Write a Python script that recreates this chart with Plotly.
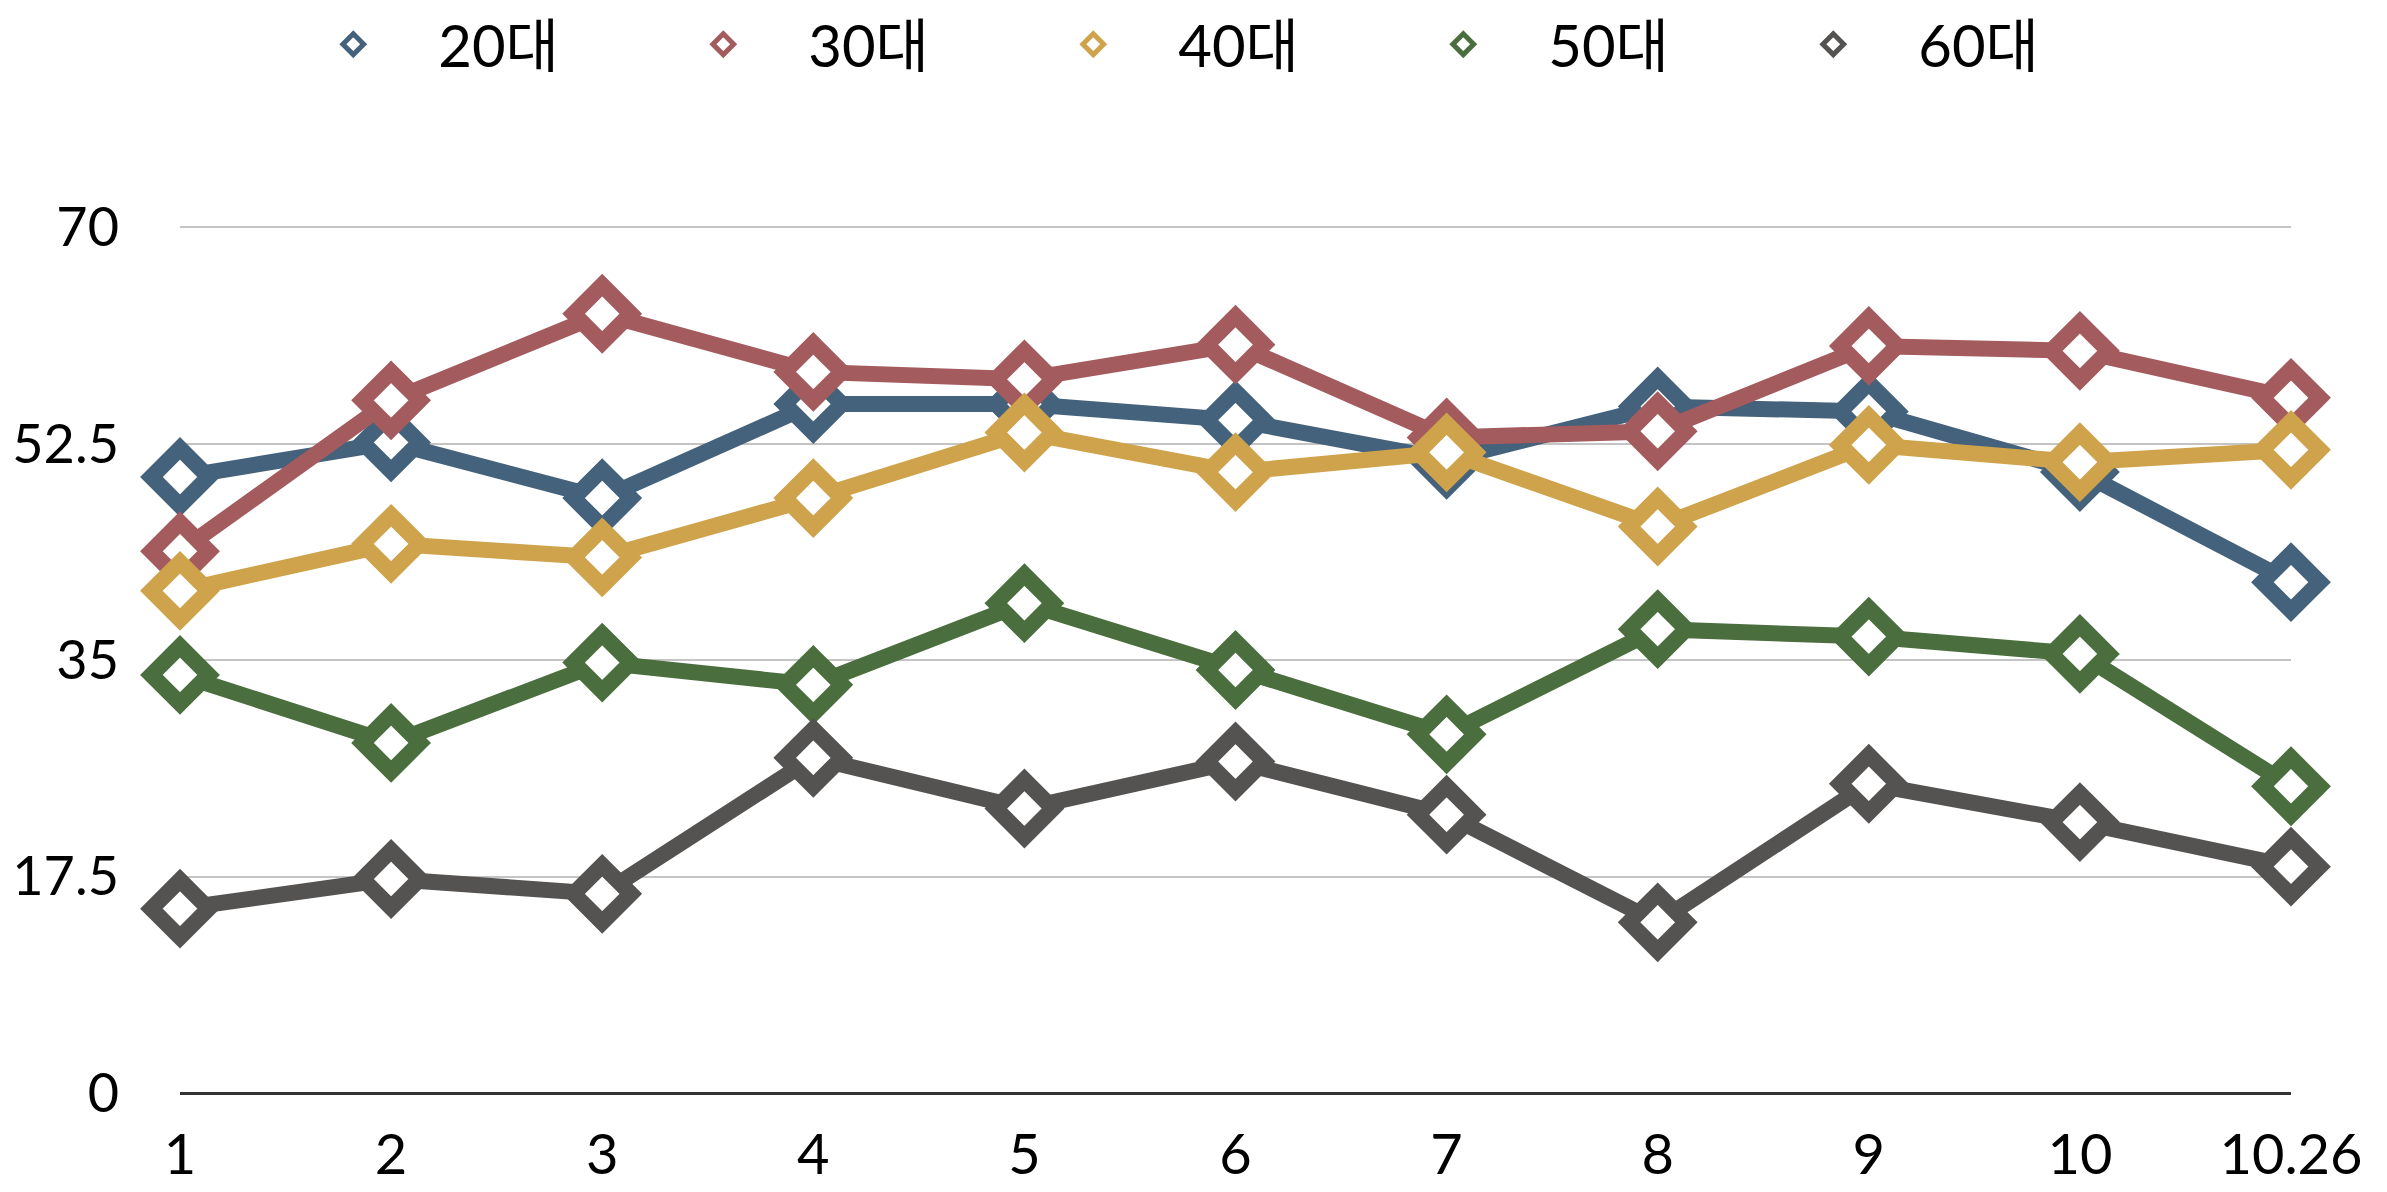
import plotly.graph_objects as go

categories = ["1", "2", "3", "4", "5", "6", "7", "8", "9", "10", "10.26"]
series_names = ["20대", "30대", "40대", "50대", "60대"]
v20 = [49.8, 52.6, 48.1, 55.7, 55.7, 54.4, 51.2, 55.5, 55.1, 50.2, 41.3]
v30 = [43.8, 56.0, 63.0, 58.3, 57.7, 60.5, 53.0, 53.5, 60.4, 60.0, 56.2]
v40 = [40.6, 44.4, 43.3, 48.1, 53.4, 50.2, 51.8, 45.8, 52.4, 51.0, 52.0]
v50 = [33.8, 28.3, 34.8, 33.0, 39.6, 34.2, 29.0, 37.5, 36.9, 35.5, 24.8]
v60 = [14.9, 17.3, 16.1, 27.1, 23.0, 26.8, 22.5, 13.8, 25.0, 21.9, 18.3]
y_ticks = [0, 17.5, 35, 52.5, 70]
y_tick_labels = ["0", "17.5", "35", "52.5", "70"]

colors = ["#44627B", "#A35B5E", "#CFA34B", "#4A6E3D", "#555352"]
all_values = [v20, v30, v40, v50, v60]

FONT = "Lato, 'Noto Sans CJK KR', sans-serif"

fig = go.Figure()
for name, vals, col in zip(series_names, all_values, colors):
    fig.add_trace(go.Scatter(
        x=categories, y=vals, name=name, mode="lines+markers",
        line=dict(color=col, width=16),
        marker=dict(symbol="diamond", size=44, color="white",
                    line=dict(color=col, width=16)),
        cliponaxis=False, showlegend=False, legendgroup=name,
    ))
# legend keys (marker only, like the original legend)
for name, col in zip(series_names, colors):
    fig.add_trace(go.Scatter(
        x=[None], y=[None], name=name, mode="markers",
        marker=dict(symbol="diamond", size=16, color="white",
                    line=dict(color=col, width=5)),
        showlegend=True, legendgroup=name,
    ))

fig.update_layout(
    width=2387, height=1192,
    paper_bgcolor="white", plot_bgcolor="white",
    margin=dict(l=180, r=96, t=221, b=99, autoexpand=False),
    font=dict(family=FONT, size=56, color="black"),
    showlegend=True,
    legend=dict(orientation="h", x=0.48, xanchor="center", xref="paper",
                y=1.0, yref="container", yanchor="top",
                font=dict(family=FONT, size=58, color="black"),
                entrywidth=195, entrywidthmode="pixels",
                itemsizing="trace", itemwidth=160),
    xaxis=dict(type="category", range=[0, len(categories) - 1],
               showgrid=False, showline=False, zeroline=False,
               ticks="", tickfont=dict(size=56), ticklabelstandoff=24),
    yaxis=dict(range=[0, 70.5], tickvals=y_ticks, ticktext=y_tick_labels,
               showgrid=True, gridcolor="#C4C4C4", gridwidth=2,
               zeroline=True, zerolinecolor="#333333", zerolinewidth=3,
               showline=False, ticks="", tickfont=dict(size=54),
               ticklabelstandoff=60),
)

fig.write_html("out.html",
               config={"displayModeBar": False},
               post_script="document.body.style.margin='0px';")
